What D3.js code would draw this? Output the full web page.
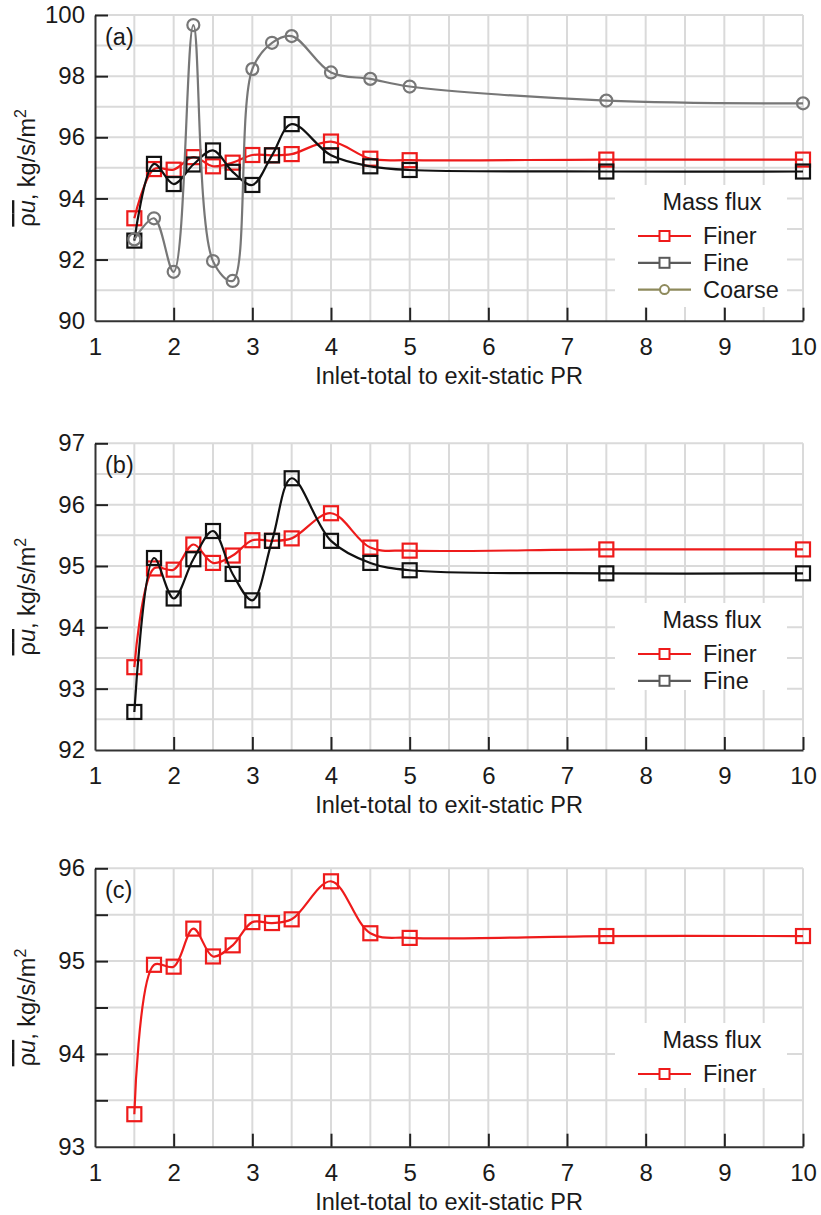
<!DOCTYPE html>
<html>
<head>
<meta charset="utf-8">
<script src="https://cdn.jsdelivr.net/npm/d3@7"></script>
<style>
  html, body { margin: 0; padding: 0; background: #fff; }
  svg { display: block; }
  text { font-family: "Liberation Sans", Arial, sans-serif; fill: #1a1a1a; }
</style>
</head>
<body>
<svg id="chart" width="821" height="1215"></svg>
<script>
// Inlet-total to exit-static pressure ratio (x) for every computed case
const prValues = [1.5, 1.75, 2, 2.25, 2.5, 2.75, 3, 3.25, 3.5, 4, 4.5, 5, 7.5, 10];

// Area-averaged mass flux, kg/s/m2, per mesh
const finerFlux  = [93.35, 94.96, 94.94, 95.35, 95.05, 95.17, 95.42, 95.41, 95.45, 95.86, 95.30, 95.25, 95.27, 95.27];
const fineFlux   = [92.62, 95.13, 94.47, 95.11, 95.57, 94.87, 94.44, 95.41, 96.43, 95.41, 95.05, 94.93, 94.88, 94.88];
const coarseFlux = [92.66, 93.35, 91.60, 99.67, 91.95, 91.30, 98.23, 99.09, 99.31, 98.12, 97.91, 97.66, 97.20, 97.11];

// Axis ticks
const xTickValues = [1, 2, 3, 4, 5, 6, 7, 8, 9, 10];
const xGridValues = [1.5, 2, 2.5, 3, 3.5, 4, 4.5, 5, 5.5, 6, 6.5, 7, 7.5, 8, 8.5, 9, 9.5, 10];
const yTicksA = [90, 92, 94, 96, 98, 100];
const yGridA  = [91, 92, 93, 94, 95, 96, 97, 98, 99, 100];
const yTicksB = [92, 93, 94, 95, 96, 97];
const yGridB  = [92.5, 93, 93.5, 94, 94.5, 95, 95.5, 96, 96.5, 97];
const yTicksC = [93, 93.5, 94, 94.5, 95, 95.5, 96];
const yGridC  = [93.5, 94, 94.5, 95, 95.5, 96];

const panelTags = ["(a)", "(b)", "(c)"];
const legendTitle = "Mass flux";
const xTitle = "Inlet-total to exit-static PR";

// Series styling
const series = {
  finer:  { name: "Finer",  values: finerFlux,  color: "#ee1b1b", legendColor: "#ee1b1b", marker: "square" },
  fine:   { name: "Fine",   values: fineFlux,   color: "#111111", legendColor: "#5a5a5a", marker: "square" },
  coarse: { name: "Coarse", values: coarseFlux, color: "#777777", legendColor: "#8e8a5c", marker: "circle" }
};

const svg = d3.select("#chart");
const left = 95, right = 803;

const panels = [
  { tag: panelTags[0], top: 15,    bottom: 320.7,  domain: [90, 100], ticks: yTicksA, grid: yGridA,
    order: ["finer", "fine", "coarse"], legend: { top: 185, bottom: 307 } },
  { tag: panelTags[1], top: 443.3, bottom: 750,    domain: [92, 97],  ticks: yTicksB, grid: yGridB,
    order: ["finer", "fine"], legend: { top: 603, bottom: 690 } },
  { tag: panelTags[2], top: 868.3, bottom: 1146.7, domain: [93, 96],  ticks: yTicksC, grid: yGridC,
    order: ["finer"], legend: { top: 1023, bottom: 1088 } }
];

const x = d3.scaleLinear().domain([1, 10]).range([left, right]);

function drawPanel(p) {
  const g = svg.append("g");
  const y = d3.scaleLinear().domain(p.domain).range([p.bottom, p.top]);

  // light grid
  g.append("g").selectAll("line").data(xGridValues).join("line")
    .attr("x1", d => x(d)).attr("x2", d => x(d))
    .attr("y1", p.top).attr("y2", p.bottom)
    .attr("stroke", "#dadada").attr("stroke-width", 2);
  g.append("g").selectAll("line").data(p.grid).join("line")
    .attr("x1", left).attr("x2", right)
    .attr("y1", d => y(d)).attr("y2", d => y(d))
    .attr("stroke", "#dadada").attr("stroke-width", 2);

  // legend box masks the grid beneath it
  g.append("rect")
    .attr("x", 615).attr("y", p.legend.top)
    .attr("width", 787 - 615).attr("height", p.legend.bottom - p.legend.top)
    .attr("fill", "#fff");

  // x axis with inward ticks
  const xAxis = d3.axisBottom(x).tickValues(xTickValues).tickSizeInner(-13).tickSizeOuter(0)
    .tickPadding(17).tickFormat(d3.format("d"));
  const gx = g.append("g").attr("transform", `translate(0,${p.bottom})`).call(xAxis);
  gx.select(".domain").attr("stroke", "#333").attr("stroke-width", 2);
  gx.selectAll(".tick line").attr("stroke", "#222").attr("stroke-width", 2)
    .filter(d => d === 1).remove();
  gx.selectAll(".tick text").attr("font-size", 24).attr("fill", "#1a1a1a")
    .attr("font-family", "Liberation Sans, Arial, sans-serif");

  // y axis with inward ticks, labels only on whole numbers
  const yAxis = d3.axisLeft(y).tickValues(p.ticks).tickSizeInner(-13).tickSizeOuter(0)
    .tickPadding(10).tickFormat(d => Number.isInteger(d) ? d3.format("d")(d) : "");
  const gy = g.append("g").attr("transform", `translate(${left},0)`).call(yAxis);
  gy.select(".domain").attr("stroke", "#333").attr("stroke-width", 2);
  gy.selectAll(".tick line").attr("stroke", "#222").attr("stroke-width", 2)
    .filter(d => d === p.domain[0]).remove();
  gy.selectAll(".tick text").attr("font-size", 24).attr("fill", "#1a1a1a")
    .attr("font-family", "Liberation Sans, Arial, sans-serif");

  // x title
  g.append("text").attr("x", (left + right) / 2).attr("y", p.bottom + 63)
    .attr("text-anchor", "middle").attr("font-size", 23.5).text(xTitle);

  // y title: overlined ρu, kg/s/m²
  const yt = g.append("text")
    .attr("transform", `translate(35,${(p.top + p.bottom) / 2}) rotate(-90)`)
    .attr("text-anchor", "middle").attr("font-size", 23.5);
  const bar = yt.append("tspan").style("text-decoration", "overline");
  bar.append("tspan").text("ρ");
  bar.append("tspan").attr("font-style", "italic").text("u");
  yt.append("tspan").text(", kg/s/m");
  yt.append("tspan").attr("font-size", 16).attr("dy", -9).text("2");

  // panel tag
  g.append("text").attr("x", 105).attr("y", p.top + 30).attr("font-size", 23.5).text(p.tag);

  // curves and markers
  const line = d3.line().x(d => x(d[0])).y(d => y(d[1])).curve(d3.curveCatmullRom.alpha(0.5));
  p.order.forEach(key => {
    const s = series[key];
    const pts = prValues.map((v, i) => [v, s.values[i]]);
    g.append("path").datum(pts).attr("d", line)
      .attr("fill", "none").attr("stroke", s.color).attr("stroke-width", 2.2);
    const m = g.append("g");
    if (s.marker === "square") {
      m.selectAll("rect").data(pts).join("rect")
        .attr("x", d => x(d[0]) - 7).attr("y", d => y(d[1]) - 7)
        .attr("width", 14).attr("height", 14)
        .attr("fill", "none").attr("stroke", s.color).attr("stroke-width", 2.2);
    } else {
      m.selectAll("circle").data(pts).join("circle")
        .attr("cx", d => x(d[0])).attr("cy", d => y(d[1])).attr("r", 6)
        .attr("fill", "none").attr("stroke", s.color).attr("stroke-width", 2.2);
    }
  });

  // legend
  const lg = g.append("g");
  const ly0 = p.legend.top + 17;
  lg.append("text").attr("x", 712).attr("y", ly0 + 8).attr("text-anchor", "middle")
    .attr("font-size", 23.5).text(legendTitle);
  p.order.forEach((key, i) => {
    const s = series[key];
    const cy = ly0 + 34 + i * 26.8;
    lg.append("line").attr("x1", 638).attr("x2", 691).attr("y1", cy).attr("y2", cy)
      .attr("stroke", s.legendColor).attr("stroke-width", 2.2);
    if (s.marker === "square") {
      lg.append("rect").attr("x", 659.5).attr("y", cy - 5).attr("width", 10).attr("height", 10)
        .attr("fill", "#fff").attr("stroke", s.legendColor).attr("stroke-width", 2);
    } else {
      lg.append("circle").attr("cx", 664.5).attr("cy", cy).attr("r", 4.5)
        .attr("fill", "#fff").attr("stroke", s.legendColor).attr("stroke-width", 2);
    }
    lg.append("text").attr("x", 703).attr("y", cy + 8).attr("font-size", 23.5).text(s.name);
  });
}

panels.forEach(drawPanel);
</script>
</body>
</html>
